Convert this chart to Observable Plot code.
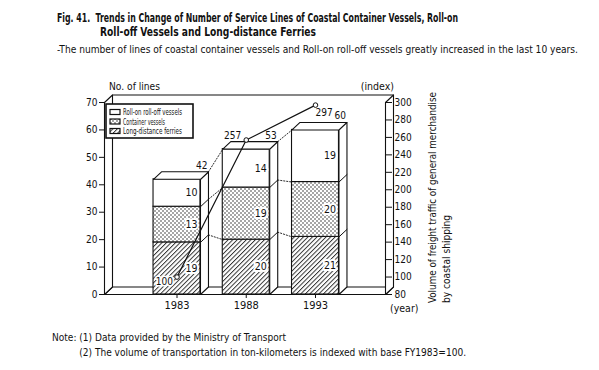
<!DOCTYPE html>
<html><head><meta charset="utf-8">
<script src="https://cdn.jsdelivr.net/npm/d3@7"></script>
<script src="https://cdn.jsdelivr.net/npm/@observablehq/plot@0.6"></script>
<style>
body{margin:0;background:#fff;width:599px;height:370px;position:relative;overflow:hidden;
 font-family:"Liberation Sans Narrow","DejaVu Sans Condensed","Liberation Sans",sans-serif;color:#111}
.abs{position:absolute;white-space:nowrap;transform-origin:0 0}
#t1{left:57px;top:10px;font-weight:bold;font-size:12.5px}
#t2{left:100px;top:24px;font-weight:bold;font-size:12.5px}
#sub{left:57px;top:43px;font-size:10.5px}
#chart{position:absolute;left:0;top:60px}
#note{left:52px;top:330px;font-size:10px;line-height:15px;display:flex}
</style></head><body>
<div id="t1" class="abs">Fig. 41.&nbsp; Trends in Change of Number of Service Lines of Coastal Container Vessels, Roll-on</div>
<div id="t2" class="abs">Roll-off Vessels and Long-distance Ferries</div>
<div id="sub" class="abs">-The number of lines of coastal container vessels and Roll-on roll-off vessels greatly increased in the last 10 years.</div>
<div id="chart"></div>
<div id="note" class="abs"><span>Note:&nbsp;</span><div>(1) Data provided by the Ministry of Transport<br>(2) The volume of transportation in ton-kilometers is indexed with base FY1983=100.</div></div>
<script>
// ---------- data ----------
const years = ["1983", "1988", "1993"];
const ferries = [19, 20, 21];          // Long-distance ferries
const container = [13, 19, 20];        // Container vessels
const roro = [10, 14, 19];             // Roll-on roll-off vessels
const totals = [42, 53, 60];
const freightIndex = [100, 257, 297];  // index, FY1983 = 100
const leftTicks = [0, 10, 20, 30, 40, 50, 60, 70];
const rightTicks = [80, 100, 120, 140, 160, 180, 200, 220, 240, 260, 280, 300];
const legendNames = ["Roll-on roll-off vessels", "Container vessels", "Long-distance ferries"];

// ---------- layout ----------
const W = 599, H = 262, ML = 104, MR = 214, MT = 42, MB = 28;
const XMIN = -1.047, XMAX = 3.011, HALF = 0.339, DX = 0.1155, DY = 2.73;
const Y0 = 0, Y1 = 70;
const idxToY = v => (v - 80) * 70 / 220;
const yToIdx = y => Math.round(y * 220 / 70 + 80);
const FONT = '"Liberation Sans Narrow","DejaVu Sans Condensed","Liberation Sans",sans-serif';

// stacked segments
const segs = [];
years.forEach((yr, i) => {
  const a = ferries[i], b = a + container[i], c = b + roro[i];
  segs.push({i, s: "ferries", y1: 0, y2: a, v: ferries[i]});
  segs.push({i, s: "container", y1: a, y2: b, v: container[i]});
  segs.push({i, s: "roro", y1: b, y2: c, v: roro[i]});
});

// polygons (box + 3D faces)
const polys = [];
let pid = 0;
function poly(pts) { const id = pid++; pts.concat([pts[0]]).forEach(([x, y]) => polys.push({id, x, y})); }
poly([[XMIN, Y0], [XMAX, Y0], [XMAX + DX, Y0 + DY], [XMIN + DX, Y0 + DY]]);
poly([[XMIN, Y0], [XMIN, Y1], [XMIN + DX, Y1 + DY], [XMIN + DX, Y0 + DY]]);
poly([[XMAX, Y0], [XMAX, Y1], [XMAX + DX, Y1 + DY], [XMAX + DX, Y0 + DY]]);
const boxLines = [];
[[XMIN + DX, Y1 + DY], [XMAX + DX, Y1 + DY]].forEach(([x, y]) => boxLines.push({id: 0, x, y}));

const barPolys = [];
let bid = 0;
function bpoly(pts) { const id = bid++; pts.concat([pts[0]]).forEach(([x, y]) => barPolys.push({id, x, y})); }
const sideLines = [];
const dotted = [];
years.forEach((yr, i) => {
  const T = totals[i];
  bpoly([[i + HALF, 0], [i + HALF + DX, DY], [i + HALF + DX, T + DY], [i + HALF, T]]);
  bpoly([[i - HALF, T], [i + HALF, T], [i + HALF + DX, T + DY], [i - HALF + DX, T + DY]]);
  const lv = [ferries[i], ferries[i] + container[i]];
  lv.forEach((v, k) => {
    sideLines.push({id: i * 2 + k, x: i + HALF, y: v});
    sideLines.push({id: i * 2 + k, x: i + HALF + DX, y: v + DY});
  });
  if (i < years.length - 1) {
    const cur = [ferries[i], ferries[i] + container[i], totals[i]];
    const nxt = [ferries[i + 1], ferries[i + 1] + container[i + 1], totals[i + 1]];
    cur.forEach((v, k) => {
      dotted.push({id: i * 3 + k, x: i + HALF + DX, y: v + DY});
      dotted.push({id: i * 3 + k, x: i + 1 - HALF, y: nxt[k]});
    });
  }
});

const idxPts = freightIndex.map((v, i) => ({x: i, y: idxToY(v), v}));

// patterns + decorations
function defs() {
  const d = d3.create("svg:defs");
  const h = d.append("pattern").attr("id", "hatch").attr("patternUnits", "userSpaceOnUse")
    .attr("width", 3.2).attr("height", 3.2).attr("patternTransform", "rotate(45)");
  h.append("rect").attr("width", 3.2).attr("height", 3.2).attr("fill", "white");
  h.append("line").attr("x1", 0.5).attr("x2", 0.5).attr("y1", 0).attr("y2", 3.2)
    .attr("stroke", "#222").attr("stroke-width", 0.9);
  const p = d.append("pattern").attr("id", "dots").attr("patternUnits", "userSpaceOnUse")
    .attr("width", 4).attr("height", 4);
  p.append("rect").attr("width", 4).attr("height", 4).attr("fill", "white");
  p.append("circle").attr("cx", 1).attr("cy", 1).attr("r", 0.75).attr("fill", "#222");
  p.append("circle").attr("cx", 3).attr("cy", 3).attr("r", 0.75).attr("fill", "#222");
  return d.node();
}
function decorations() {
  const g = d3.create("svg:g").attr("font-family", FONT).attr("fill", "#111").attr("text-anchor", "start");
  // legend
  const lx = ML + 2, ly = MT + 2;
  g.append("rect").attr("x", lx).attr("y", ly).attr("width", 87).attr("height", 34)
    .attr("fill", "white").attr("stroke", "#111").attr("stroke-width", 1.6);
  const fills = ["white", "url(#dots)", "url(#hatch)"];
  const lens = [59, 42, 59];
  legendNames.forEach((n, k) => {
    const yy = ly + 8 + k * 9.5;
    g.append("rect").attr("x", lx + 4).attr("y", yy - 2.5).attr("width", 10).attr("height", 5)
      .attr("fill", fills[k]).attr("stroke", "#111").attr("stroke-width", 1.2);
    g.append("text").attr("x", lx + 17).attr("y", yy).attr("dy", "0.35em")
      .attr("font-size", 9).attr("textLength", lens[k]).attr("lengthAdjust", "spacingAndGlyphs").text(n);
  });
  // axis titles
  g.append("text").attr("x", ML + 5).attr("y", MT - 16).attr("dy", "0.35em").attr("font-size", 11)
    .attr("textLength", 51).attr("lengthAdjust", "spacingAndGlyphs").text("No. of lines");
  g.append("text").attr("x", W - MR + 9).attr("y", MT - 16).attr("dy", "0.35em").attr("font-size", 10.5)
    .attr("text-anchor", "end").text("(index)");
  g.append("text").attr("x", W - MR + 5).attr("y", H - MB + 14).attr("dy", "0.35em").attr("font-size", 10.5)
    .text("(year)");
  const rx = W - MR + 51, ry = H - MB + 9;
  g.append("text").attr("transform", `translate(${rx},${ry}) rotate(-90)`).attr("font-size", 11)
    .attr("textLength", 211).attr("lengthAdjust", "spacingAndGlyphs")
    .text("Volume of freight traffic of general merchandise");
  g.append("text").attr("transform", `translate(${rx + 14},${ry}) rotate(-90)`).attr("font-size", 11)
    .attr("textLength", 88).attr("lengthAdjust", "spacingAndGlyphs")
    .text("by coastal shipping");
  return g.node();
}

const segFill = {ferries: "url(#hatch)", container: "url(#dots)", roro: "white"};
const chart = Plot.plot({
  width: W, height: H,
  marginLeft: ML, marginRight: MR, marginTop: MT, marginBottom: MB,
  x: {domain: [XMIN, XMAX], axis: null},
  y: {domain: [Y0, Y1], axis: null},
  style: {fontFamily: FONT, fontSize: "10px", color: "#111", background: "white", overflow: "visible"},
  marks: [
    defs,
    Plot.line(polys, {x: "x", y: "y", z: "id", fill: "white", stroke: "#111", strokeWidth: 1.1}),
    Plot.line(boxLines, {x: "x", y: "y", z: "id", stroke: "#111", strokeWidth: 1.1}),
    Plot.axisY(leftTicks, {anchor: "left", tickSize: 5, tickPadding: 2, fontSize: 10, label: null}),
    Plot.axisY(rightTicks.map(idxToY), {anchor: "right", tickSize: 6, tickPadding: 3, fontSize: 10,
      tickFormat: yToIdx, label: null}),
    Plot.axisX([0, 1, 2], {anchor: "bottom", tickSize: 4, tickPadding: 3, fontSize: 11,
      tickFormat: i => years[i], label: null}),
    decorations,
    ...["ferries", "container", "roro"].map(s =>
      Plot.rect(segs.filter(d => d.s === s), {x1: d => d.i - HALF, x2: d => d.i + HALF, y1: "y1", y2: "y2",
        fill: segFill[s], stroke: "#111", strokeWidth: 1.1})),
    Plot.line(barPolys, {x: "x", y: "y", z: "id", fill: "white", stroke: "#111", strokeWidth: 1.1}),
    Plot.line(sideLines, {x: "x", y: "y", z: "id", stroke: "#111", strokeWidth: 1}),
    Plot.line(dotted, {x: "x", y: "y", z: "id", stroke: "#111", strokeWidth: 0.9, strokeDasharray: "1.2,1.8"}),
    Plot.text(segs, {x: d => d.i + HALF, y: d => (d.y1 + d.y2) / 2, text: d => String(d.v),
      textAnchor: "end", dx: -3, fontSize: 10.5, fill: "#111", stroke: "white", strokeWidth: 4, paintOrder: "stroke"}),
    Plot.text(years, {x: (d, i) => i + HALF + DX, y: (d, i) => totals[i] + DY, text: (d, i) => String(totals[i]),
      textAnchor: "end", lineAnchor: "bottom", dx: -1, dy: -3, fontSize: 10, fill: "#111"}),
    Plot.line(idxPts, {x: "x", y: "y", stroke: "#111", strokeWidth: 1.2}),
    Plot.dot(idxPts, {x: "x", y: "y", r: 2.3, fill: "white", stroke: "#111", strokeWidth: 1}),
    Plot.text(idxPts.slice(0, 1), {x: "x", y: "y", text: d => String(d.v), textAnchor: "end", dx: -4, dy: 5,
      fontSize: 10, fill: "#111", stroke: "white", strokeWidth: 3, paintOrder: "stroke"}),
    Plot.text(idxPts.slice(1, 2), {x: "x", y: "y", text: d => String(d.v), textAnchor: "end", dx: -5, dy: -4,
      fontSize: 10, fill: "#111"}),
    Plot.text(idxPts.slice(2, 3), {x: "x", y: "y", text: d => String(d.v), textAnchor: "start", dx: 0, dy: 8,
      fontSize: 10, fill: "#111"})
  ]
});
document.getElementById("chart").append(chart);

function fit(id, w) {
  const el = document.getElementById(id);
  const r = el.getBoundingClientRect().width;
  el.style.transform = `scaleX(${w / r})`;
}
fit("t1", 401);
fit("t2", 216);
fit("sub", 521);
fit("note", 414);
</script>
</body></html>
